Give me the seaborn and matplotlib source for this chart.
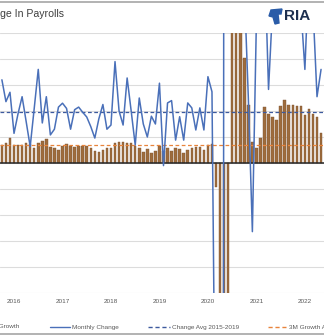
import numpy as np
import pandas as pd
import matplotlib
matplotlib.use("Agg")
import matplotlib.pyplot as plt
import seaborn as sns
from matplotlib.lines import Line2D
from matplotlib.patches import Polygon

# ---------------- data (Oct 2015 .. May 2022, monthly) ----------------
months = pd.date_range("2015-10-01", "2022-05-01", freq="MS")
monthly_change = [
    320, 236, 272,
    114, 190, 255, 160, 63, 210, 360, 154, 255, 108, 130, 215,
    230, 210, 130, 205, 215, 195, 177, 140, 96, 170, 225, 130,
    146, 390, 200, 146, 327, 200, 69, 250, 150, 100, 180, 150,
    307, -10, 231, 240, 88, 178, 88, 231, 212, 127, 212, 127,
    332, 274, -1400, -20500, 2800, 4800, 1700, 1500, 700, 680, 250, -264,
    550, 700, 800, 283, 600, 900, 1000, 600, 600, 700, 650, 600,
    360, 750, 600, 255, 360,
]
growth_3m = [
    69, 78, 95,
    69, 69, 69, 76, 74, 56, 76, 85, 91, 63, 59, 50,
    65, 73, 65, 63, 66, 66, 65, 56, 46, 41, 50, 56,
    56, 76, 82, 82, 76, 76, 66, 56, 41, 54, 37, 46,
    65, 45, 56, 47, 56, 53, 37, 50, 56, 60, 63, 50,
    69, 73, -91, -5000, -3000, -1000, 2000, 2000, 1000, 404, 223, 81,
    58, 96, 216, 190, 177, 166, 219, 241, 225, 225, 218, 218,
    185, 207, 190, 177, 114,
]
change_avg_2015_2019 = 196
growth_3m_avg = 69
year_labels = ["2016", "2017", "2018", "2019", "2020", "2021", "2022"]
legend_labels = ["3M Growth", "Monthly Change", "Change Avg 2015-2019", "3M Growth Avg"]
title_text = "ge In Payrolls"

# ---------------- style ----------------
BLUE = "#4a70b9"
BLUE_DASH = "#3d5a9e"
ORANGE = "#e8843c"
BROWN = "#9e6c3d"
TXT = "#595959"

sns.set_theme(style="white")
plt.rcParams["font.family"] = ["Liberation Sans", "DejaVu Sans"]

W, H = 324, 336
fig = plt.figure(figsize=(W / 100, H / 100), dpi=100)
ax = fig.add_axes([0, 1 - 293 / H, 1, 260 / H])

df = pd.DataFrame({
    "i": np.arange(len(months)),
    "change": monthly_change,
    "growth": growth_3m,
})

ax.set_yticks(np.arange(-500, 501, 100))
ax.yaxis.grid(True, color="#dcdcdc", lw=0.8)
ax.set_axisbelow(True)

sns.barplot(data=df, x="i", y="growth", native_scale=True, color=BROWN,
            saturation=1, width=0.62, edgecolor="#7d5430", linewidth=0.3,
            ax=ax, zorder=2)
ax.axhline(growth_3m_avg, color=ORANGE, lw=0.9, ls=(0, (3, 2)), zorder=3)
ax.axhline(change_avg_2015_2019, color=BLUE_DASH, lw=0.9, ls=(0, (3, 2)), zorder=3)
ax.axhline(0, color="#262626", lw=1.1, zorder=4)
sns.lineplot(data=df, x="i", y="change", color=BLUE, lw=1.1, ax=ax, zorder=5)

ax.set_ylim(-500, 500)
ax.set_xlim(-0.47, 79.73)
jan_idx = [k for k, m in enumerate(months) if m.month == 1]
ax.set_xticks(jan_idx)
ax.set_xticklabels(year_labels)
ax.tick_params(axis="x", length=0, pad=4.6, labelsize=4.6, labelcolor=TXT)
ax.tick_params(axis="y", length=0, labelleft=False)
ax.set_xlabel("")
ax.set_ylabel("")
for s in ax.spines.values():
    s.set_visible(False)

# ---------------- title / logo / frame ----------------
fig.text(0 / W, 1 - 14 / H, title_text, ha="left", va="center",
         fontsize=7.6, color="#404040")
logo = Polygon([(271 / W, 1 - 10 / H), (282 / W, 1 - 9 / H), (281 / W, 1 - 14 / H),
                (278 / W, 1 - 14 / H), (279 / W, 1 - 23 / H), (275 / W, 1 - 24 / H),
                (273 / W, 1 - 17 / H), (269 / W, 1 - 16 / H)],
               closed=True, transform=fig.transFigure, color="#2a5ca8")
fig.add_artist(logo)
fig.text(284 / W, 1 - 16 / H, "RIA", ha="left", va="center", fontsize=11,
         fontweight="bold", color="#1d2f4f")
for yy in (2, 334):
    fig.add_artist(Line2D([0, 1], [1 - yy / H, 1 - yy / H], transform=fig.transFigure,
                          color="#a6a6a6", lw=1.2))

# ---------------- legend (manual) ----------------
ly = 1 - 327 / H
fs = 4.6
fig.text(19 / W, ly, legend_labels[0], ha="right", va="center", fontsize=fs, color=TXT)
fig.add_artist(Line2D([50 / W, 70 / W], [ly, ly], transform=fig.transFigure, color=BLUE, lw=1.0))
fig.text(72 / W, ly, legend_labels[1], ha="left", va="center", fontsize=fs, color=TXT)
fig.add_artist(Line2D([148 / W, 170 / W], [ly, ly], transform=fig.transFigure, color=BLUE_DASH,
                      lw=1.0, ls=(0, (3, 2))))
fig.text(172 / W, ly, legend_labels[2], ha="left", va="center", fontsize=fs, color=TXT)
fig.add_artist(Line2D([268 / W, 286 / W], [ly, ly], transform=fig.transFigure, color=ORANGE,
                      lw=1.0, ls=(0, (3, 2))))
fig.text(289 / W, ly, legend_labels[3], ha="left", va="center", fontsize=fs, color=TXT)

fig.savefig("out.png", dpi=100)
